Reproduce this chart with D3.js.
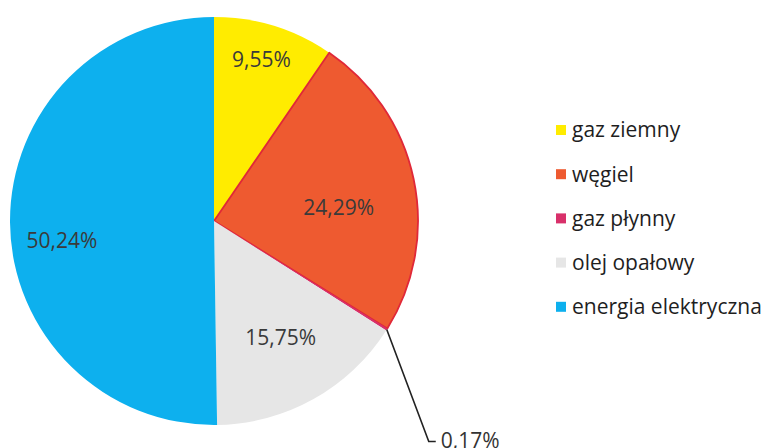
<!DOCTYPE html>
<html><head><meta charset="utf-8">
<script src="https://cdn.jsdelivr.net/npm/d3@7"></script>
<style>html,body{margin:0;padding:0;background:#fff;}svg{display:block;}</style>
</head><body>
<script>
const categories = ["gaz ziemny", "węgiel", "gaz płynny", "olej opałowy", "energia elektryczna"];
const values = [9.55, 24.29, 0.17, 15.75, 50.24];
const labels = ["9,55%", "24,29%", "0,17%", "15,75%", "50,24%"];
const colors = ["#FFEC00", "#EE5A30", "#D8306A", "#E6E6E6", "#0DB0EE"];

const W = 768, H = 448;
const cx = 214, cy = 221, R = 204;
// label layout: radius fraction and nudges (px)
const labelRadius = [0.82, 0.6, null, 0.65, 0.76];
const labelNudge = [[-2, -2], [5, 12], [0, 0], [2, 1], [3, 18]];

const svg = d3.select("body").append("svg").attr("width", W).attr("height", H);
const g = svg.append("g").attr("transform", `translate(${cx},${cy})`);

const data = categories.map((c, i) => ({cat: c, value: values[i], label: labels[i], color: colors[i], i}));
const pie = d3.pie().value(d => d.value).sort(null);
const arcs = pie(data);
const arc = d3.arc().innerRadius(0).outerRadius(R);

g.selectAll("path.slice").data(arcs).enter().append("path")
  .attr("class", "slice")
  .attr("d", arc)
  .attr("fill", d => d.data.color)
  .attr("stroke", d => d.data.i === 1 ? "#E02838" : "none")
  .attr("stroke-width", d => d.data.i === 1 ? 1.8 : 0)
  .attr("stroke-linejoin", "round");

const fontFam = "'Open Sans', Lato, sans-serif";

arcs.forEach(a => {
  const i = a.data.i;
  if (labelRadius[i] === null) return;
  const la = d3.arc().innerRadius(R * labelRadius[i]).outerRadius(R * labelRadius[i]);
  const [x, y] = la.centroid(a);
  g.append("text").attr("x", x + labelNudge[i][0]).attr("y", y + labelNudge[i][1]).attr("dy", "0.35em")
    .attr("text-anchor", "middle")
    .attr("font-family", fontFam).attr("font-size", 21).attr("font-weight", 500)
    .attr("fill", "#3a3a3a")
    .text(a.data.label);
});

// leader line for tiny slice
const tiny = arcs[2];
const mid = (tiny.startAngle + tiny.endAngle) / 2;
const p0 = [R * Math.sin(mid), -R * Math.cos(mid)];
const p1 = [p0[0] + 42, p0[1] + 112];
const p2 = [p1[0] + 7, p1[1]];
g.append("polyline")
  .attr("points", [p0, p1, p2].map(p => p.join(",")).join(" "))
  .attr("fill", "none").attr("stroke", "#222").attr("stroke-width", 1.6);
g.append("text").attr("x", p2[0] + 5).attr("y", p2[1]).attr("dy", "0.3em")
  .attr("font-family", fontFam).attr("font-size", 21).attr("font-weight", 500).attr("fill", "#333")
  .text(tiny.data.label);

// legend
const leg = svg.append("g").attr("transform", "translate(556,130)");
const rows = leg.selectAll("g").data(data).enter().append("g")
  .attr("transform", (d, i) => `translate(0,${i * 44.2})`);
rows.append("rect").attr("x", 0).attr("y", -5).attr("width", 10).attr("height", 10)
  .attr("fill", d => d.color);
rows.append("text").attr("x", 16).attr("y", 0).attr("dy", "0.35em")
  .attr("font-family", fontFam).attr("font-size", 21).attr("font-weight", 500).attr("fill", "#1e1e1e")
  .text(d => d.cat);
</script>
</body></html>
